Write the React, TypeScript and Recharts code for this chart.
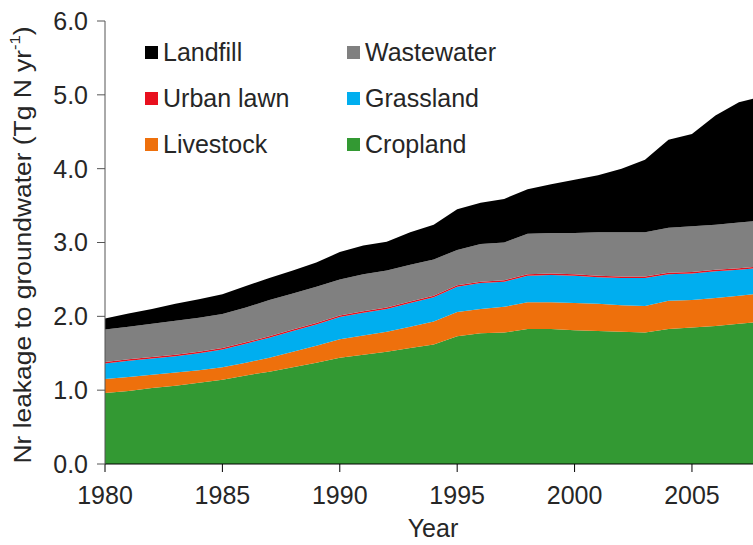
import { Area, AreaChart, Legend, XAxis, YAxis } from "recharts";

// values in Tg N / yr (layer thickness, not cumulative)
const years = [
  1980, 1981, 1982, 1983, 1984, 1985, 1986, 1987, 1988, 1989, 1990, 1991, 1992, 1993, 1994,
  1995, 1996, 1997, 1998, 1999, 2000, 2001, 2002, 2003, 2004, 2005, 2006, 2007, 2008,
];
const cropland = [
  0.96, 0.99, 1.03, 1.06, 1.1, 1.14, 1.2, 1.25, 1.31, 1.37, 1.44, 1.48, 1.52, 1.57, 1.62,
  1.73, 1.77, 1.78, 1.83, 1.83, 1.81, 1.8, 1.79, 1.78, 1.83, 1.85, 1.87, 1.9, 1.93,
];
const livestock = [
  0.19, 0.19, 0.18, 0.18, 0.17, 0.17, 0.17, 0.19, 0.21, 0.23, 0.25, 0.26, 0.27, 0.29, 0.31,
  0.33, 0.33, 0.35, 0.36, 0.36, 0.37, 0.37, 0.36, 0.36, 0.38, 0.37, 0.38, 0.38, 0.38,
];
const grassland = [
  0.21, 0.22, 0.22, 0.22, 0.23, 0.24, 0.26, 0.27, 0.28, 0.29, 0.3, 0.31, 0.31, 0.32, 0.33,
  0.34, 0.35, 0.34, 0.36, 0.37, 0.37, 0.36, 0.37, 0.38, 0.36, 0.36, 0.36, 0.35, 0.35,
];
const urbanLawn = [
  0.02, 0.02, 0.02, 0.02, 0.02, 0.02, 0.02, 0.02, 0.02, 0.02, 0.02, 0.02, 0.02, 0.02, 0.02,
  0.02, 0.02, 0.02, 0.02, 0.02, 0.02, 0.02, 0.02, 0.02, 0.02, 0.02, 0.02, 0.02, 0.02,
];
const wastewater = [
  0.44, 0.44, 0.45, 0.46, 0.46, 0.46, 0.47, 0.49, 0.49, 0.49, 0.49, 0.5, 0.5, 0.5, 0.49,
  0.48, 0.51, 0.51, 0.55, 0.55, 0.56, 0.59, 0.6, 0.6, 0.61, 0.62, 0.61, 0.62, 0.62,
];
const landfill = [
  0.15, 0.18, 0.2, 0.23, 0.25, 0.27, 0.29, 0.3, 0.31, 0.33, 0.37, 0.39, 0.39, 0.44, 0.47,
  0.55, 0.56, 0.59, 0.6, 0.66, 0.72, 0.77, 0.86, 0.98, 1.19, 1.25, 1.48, 1.63, 1.68,
];

const yearTicks = [1980, 1985, 1990, 1995, 2000, 2005];
const valueTicks = [0, 1, 2, 3, 4, 5, 6];

// bottom to top of the stack
const series = [
  { key: "cropland", name: "Cropland", color: "#339933", values: cropland },
  { key: "livestock", name: "Livestock", color: "#ee700c", values: livestock },
  { key: "grassland", name: "Grassland", color: "#00aeef", values: grassland },
  { key: "urbanLawn", name: "Urban lawn", color: "#e8101e", values: urbanLawn },
  { key: "wastewater", name: "Wastewater", color: "#808080", values: wastewater },
  { key: "landfill", name: "Landfill", color: "#000000", values: landfill },
];

// legend grid as in the figure: two columns, three rows
const legendGrid = [
  ["landfill", "wastewater"],
  ["urbanLawn", "grassland"],
  ["livestock", "cropland"],
];

const data = years.map((year, i) => {
  const row: Record<string, number> = { year };
  series.forEach((s) => {
    row[s.key] = s.values[i];
  });
  return row;
});

const FONT = "'Liberation Sans', Arial, Helvetica, sans-serif";
const TEXT = "#262626";

const LegendBox = () => (
  <div style={{ position: "relative", width: 430, height: 170, fontFamily: FONT }}>
    {legendGrid.map((row, r) =>
      row.map((key, c) => {
        const s = series.find((x) => x.key === key)!;
        return (
          <div
            key={key}
            style={{
              position: "absolute",
              left: 145 + c * 202,
              top: 38 + r * 46,
              display: "flex",
              alignItems: "center",
              whiteSpace: "nowrap",
            }}
          >
            <span style={{ width: 13, height: 13, background: s.color, display: "inline-block" }} />
            <span style={{ marginLeft: 5, fontSize: 25, color: TEXT, lineHeight: "28px" }}>{s.name}</span>
          </div>
        );
      })
    )}
  </div>
);

// the source figure's lettering runs a little wide, hence the scale along the baseline
const YLabel = () => (
  <text
    x={0}
    y={0}
    transform="translate(22 245) rotate(-90) scale(1.1 1)"
    textAnchor="middle"
    dominantBaseline="central"
    fontSize={24}
    fill={TEXT}
    fontFamily={FONT}
  >
    Nr leakage to groundwater (Tg N yr
    <tspan dy={-8} fontSize={15}>
      -1
    </tspan>
    <tspan dy={8}>)</tspan>
  </text>
);

export default function App() {
  return (
    <div
      style={{
        position: "fixed",
        left: 0,
        top: 0,
        width: 753,
        height: 545,
        overflow: "hidden",
        background: "#fff",
        fontFamily: FONT,
      }}
    >
      <AreaChart width={753} height={545} data={data} margin={{ top: 21, right: 0, bottom: 0, left: 0 }}>
        <XAxis
          dataKey="year"
          type="number"
          domain={[1980, 2007.6]}
          allowDataOverflow
          ticks={yearTicks}
          height={81}
          tickSize={8}
          tickMargin={14}
          stroke="#000"
          tick={{ fill: TEXT, fontSize: 25, fontFamily: FONT }}
          label={{ value: "Year", position: "insideBottom", offset: 8, dx: 4, fill: TEXT, fontSize: 25, fontFamily: FONT }}
        />
        <YAxis
          type="number"
          domain={[0, 6]}
          ticks={valueTicks}
          width={105}
          tickSize={8}
          tickMargin={9}
          stroke="#555"
          tickFormatter={(v: number) => v.toFixed(1)}
          tick={{ fill: TEXT, fontSize: 25, fontFamily: FONT }}
          label={<YLabel />}
        />
        <Legend layout="horizontal" verticalAlign="middle" align="center" wrapperStyle={{ top: 0, left: 0 }} content={<LegendBox />} />
        {series.map((s) => (
          <Area
            key={s.key}
            type="linear"
            dataKey={s.key}
            name={s.name}
            stackId="n"
            stroke="none"
            fill={s.color}
            fillOpacity={1}
            isAnimationActive={false}
          />
        ))}
      </AreaChart>
    </div>
  );
}
